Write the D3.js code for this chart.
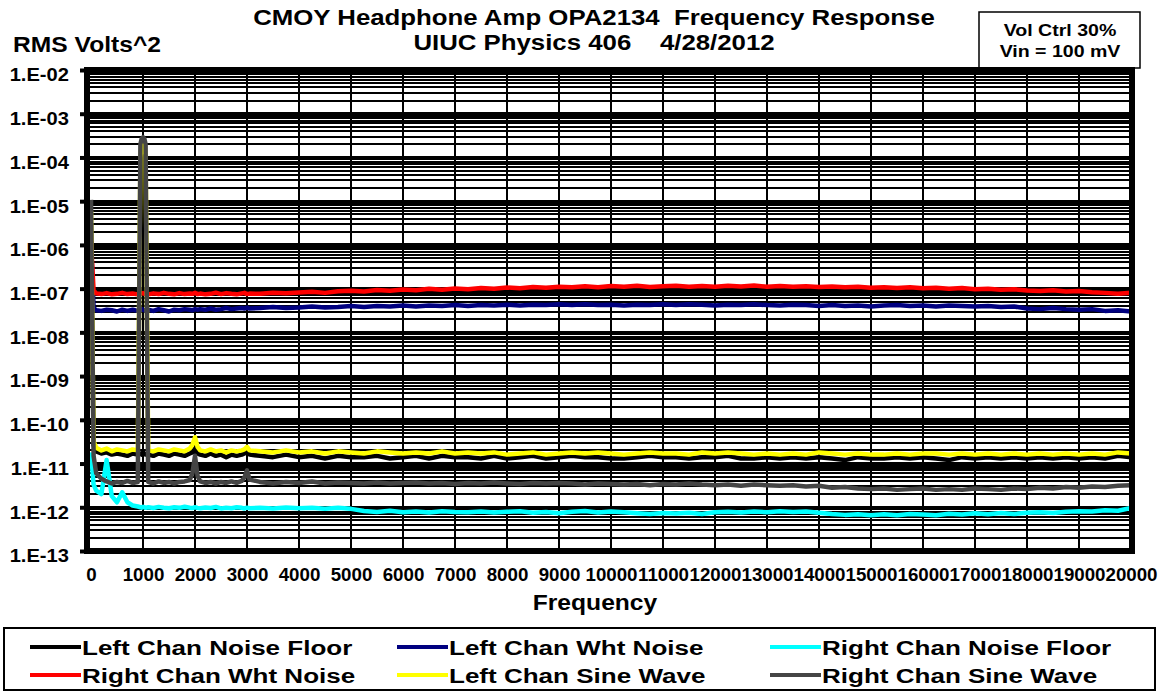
<!DOCTYPE html>
<html lang="en">
<head>
<meta charset="UTF-8" />
<title>CMOY Headphone Amp OPA2134 Frequency Response</title>
<script src="https://d3js.org/d3.v7.min.js"></script>
<style>
  body { margin: 0; background: #fff; }
  svg { display: block; font-family: "Liberation Sans", Arial, sans-serif; font-weight: bold; }
</style>
</head>
<body>
<svg id="chart" width="1166" height="692"></svg>
<script>
// ---- data ----
const freq = [
  0, 50, 100,
  200, 300, 400, 500, 600, 700, 800, 900,
  950, 975, 1000, 1025, 1050,
  1100, 1200, 1300, 1400, 1500, 1600, 1700, 1800, 1900,
  1950, 2000, 2050,
  2100, 2200, 2300, 2400, 2500, 2600, 2700, 2800, 2900,
  2950, 3000, 3050,
  3250, 3500, 3750, 4000, 4250, 4500, 4750, 5000, 5250, 5500, 5750, 6000,
  6250, 6500, 6750, 7000, 7250, 7500, 7750, 8000, 8250, 8500, 8750, 9000,
  9250, 9500, 9750, 10000, 10250, 10500, 10750, 11000, 11250, 11500, 11750, 12000,
  12250, 12500, 12750, 13000, 13250, 13500, 13750, 14000, 14250, 14500, 14750, 15000,
  15250, 15500, 15750, 16000, 16250, 16500, 16750, 17000, 17250, 17500, 17750, 18000,
  18250, 18500, 18750, 19000, 19250, 19500, 19750, 20000
];

const leftNoiseFloor = [
  3e-6, 2.6e-11, 1.9e-11,
  1.7e-11, 1.8e-11, 1.6e-11, 1.7e-11, 1.6e-11, 1.5e-11, 1.7e-11, 1.6e-11,
  1.7e-11, 1.6e-11, 1.8e-11, 1.7e-11, 1.6e-11,
  1.6e-11, 1.5e-11, 1.7e-11, 1.6e-11, 1.5e-11, 1.7e-11, 1.6e-11, 1.5e-11, 1.7e-11,
  1.8e-11, 2.2e-11, 1.7e-11,
  1.6e-11, 1.5e-11, 1.7e-11, 1.5e-11, 1.6e-11, 1.4e-11, 1.6e-11, 1.5e-11, 1.6e-11,
  1.7e-11, 1.9e-11, 1.6e-11,
  1.5e-11, 1.4e-11, 1.6e-11, 1.4e-11, 1.5e-11, 1.3e-11, 1.5e-11, 1.4e-11,
  1.4e-11, 1.5e-11, 1.3e-11, 1.4e-11, 1.5e-11, 1.3e-11, 1.5e-11, 1.4e-11,
  1.4e-11, 1.3e-11, 1.5e-11, 1.3e-11, 1.4e-11, 1.5e-11, 1.3e-11, 1.4e-11,
  1.5e-11, 1.4e-11, 1.4e-11, 1.3e-11, 1.3e-11, 1.4e-11, 1.5e-11, 1.4e-11,
  1.4e-11, 1.3e-11, 1.4e-11, 1.4e-11, 1.5e-11, 1.3e-11, 1.3e-11, 1.4e-11,
  1.3e-11, 1.4e-11, 1.3e-11, 1.4e-11, 1.3e-11, 1.2e-11, 1.4e-11, 1.3e-11,
  1.3e-11, 1.4e-11, 1.3e-11, 1.4e-11, 1.3e-11, 1.2e-11, 1.4e-11, 1.3e-11,
  1.4e-11, 1.3e-11, 1.4e-11, 1.3e-11, 1.4e-11, 1.3e-11, 1.4e-11, 1.3e-11,
  1.4e-11, 1.3e-11, 1.5e-11, 1.4e-11
];

const leftWhtNoise = [
  1.2e-6, 3.6e-8, 3.2e-8,
  3.1e-8, 3.3e-8, 3.2e-8, 3.0e-8, 3.3e-8, 3.1e-8, 3.3e-8, 3.1e-8,
  3.2e-8, 3.4e-8, 3.3e-8, 3.2e-8, 3.1e-8,
  3.3e-8, 3.1e-8, 3.4e-8, 3.2e-8, 3.0e-8, 3.3e-8, 3.2e-8, 3.4e-8, 3.3e-8,
  3.2e-8, 3.4e-8, 3.3e-8,
  3.4e-8, 3.3e-8, 3.5e-8, 3.3e-8, 3.4e-8, 3.6e-8, 3.4e-8, 3.5e-8, 3.6e-8,
  3.5e-8, 3.7e-8, 3.5e-8,
  3.6e-8, 3.8e-8, 3.6e-8, 3.7e-8, 3.9e-8, 3.7e-8, 3.8e-8, 4.0e-8,
  3.8e-8, 4.0e-8, 3.9e-8, 4.1e-8, 3.9e-8, 4.1e-8, 4.0e-8, 4.2e-8,
  4.0e-8, 4.2e-8, 4.1e-8, 4.3e-8, 4.1e-8, 4.3e-8, 4.2e-8, 4.4e-8,
  4.2e-8, 4.4e-8, 4.2e-8, 4.3e-8, 4.1e-8, 4.3e-8, 4.2e-8, 4.4e-8,
  4.2e-8, 4.4e-8, 4.3e-8, 4.1e-8, 4.3e-8, 4.2e-8, 4.4e-8, 4.2e-8,
  4.1e-8, 4.3e-8, 4.2e-8, 4.0e-8, 4.2e-8, 4.0e-8, 4.1e-8, 3.9e-8,
  4.1e-8, 4.2e-8, 4.0e-8, 4.1e-8, 3.9e-8, 4.1e-8, 4.0e-8, 3.9e-8,
  4.0e-8, 3.8e-8, 3.9e-8, 3.5e-8, 3.4e-8, 3.6e-8, 3.4e-8, 3.3e-8,
  3.4e-8, 3.1e-8, 3.2e-8, 3.0e-8
];

const rightNoiseFloor = [
  1.8e-11, 3.3e-12, 2.4e-12,
  2.0e-12, 1.2e-11, 1.8e-12, 1.3e-12, 2.2e-12, 1.3e-12, 1.1e-12, 1.04e-12,
  1.0e-12, 9.8e-13, 1.03e-12, 1.0e-12, 9.7e-13,
  1.0e-12, 9.6e-13, 1.02e-12, 9.8e-13, 9.5e-13, 1.0e-12, 9.7e-13, 1.03e-12, 9.8e-13,
  9.6e-13, 1.0e-12, 9.7e-13,
  9.5e-13, 9.9e-13, 9.6e-13, 1.02e-12, 9.4e-13, 9.8e-13, 9.5e-13, 1.0e-12, 9.7e-13,
  9.4e-13, 9.8e-13, 9.5e-13,
  9.7e-13, 9.4e-13, 9.9e-13, 9.5e-13, 9.8e-13, 9.3e-13, 9.7e-13, 9.2e-13,
  8.2e-13, 7.8e-13, 8.3e-13, 7.7e-13, 8.0e-13, 7.6e-13, 8.1e-13, 7.8e-13,
  7.7e-13, 8.0e-13, 7.6e-13, 7.9e-13, 8.1e-13, 7.5e-13, 7.8e-13, 7.3e-13,
  7.9e-13, 8.2e-13, 7.6e-13, 8.0e-13, 7.7e-13, 7.3e-13, 7.0e-13, 7.4e-13,
  7.2e-13, 7.5e-13, 7.0e-13, 7.7e-13, 7.9e-13, 7.6e-13, 8.0e-13, 7.7e-13,
  8.1e-13, 7.8e-13, 8.0e-13, 7.5e-13, 7.0e-13, 6.7e-13, 6.9e-13, 6.6e-13,
  6.9e-13, 6.6e-13, 7.0e-13, 6.8e-13, 6.6e-13, 7.1e-13, 6.8e-13, 7.3e-13,
  6.9e-13, 7.4e-13, 7.0e-13, 7.5e-13, 7.7e-13, 7.4e-13, 7.9e-13, 8.1e-13,
  8.0e-13, 8.5e-13, 8.3e-13, 9.6e-13
];

const rightWhtNoise = [
  1.2e-6, 9e-8, 7.8e-8,
  7.5e-8, 7.9e-8, 7.4e-8, 7.6e-8, 8.0e-8, 7.5e-8, 7.7e-8, 7.4e-8,
  7.6e-8, 7.8e-8, 7.9e-8, 7.6e-8, 7.5e-8,
  7.4e-8, 7.8e-8, 7.5e-8, 8.0e-8, 7.6e-8, 7.4e-8, 7.9e-8, 7.5e-8, 7.7e-8,
  7.6e-8, 8.0e-8, 7.5e-8,
  7.7e-8, 7.4e-8, 7.6e-8, 8.1e-8, 7.5e-8, 7.9e-8, 7.6e-8, 7.4e-8, 7.8e-8,
  8.0e-8, 7.5e-8, 7.7e-8,
  7.6e-8, 8.1e-8, 7.8e-8, 8.2e-8, 8.5e-8, 8.0e-8, 8.7e-8, 8.9e-8,
  8.6e-8, 9.3e-8, 9.0e-8, 9.5e-8, 9.2e-8, 9.9e-8, 9.4e-8, 1.01e-7,
  9.7e-8, 1.04e-7, 1.0e-7, 1.06e-7, 1.02e-7, 1.09e-7, 1.05e-7, 1.11e-7,
  1.07e-7, 1.13e-7, 1.08e-7, 1.15e-7, 1.10e-7, 1.16e-7, 1.09e-7, 1.14e-7,
  1.17e-7, 1.10e-7, 1.15e-7, 1.11e-7, 1.16e-7, 1.12e-7, 1.18e-7, 1.11e-7,
  1.15e-7, 1.10e-7, 1.14e-7, 1.09e-7, 1.12e-7, 1.07e-7, 1.10e-7, 1.05e-7,
  1.08e-7, 1.03e-7, 1.07e-7, 1.02e-7, 1.05e-7, 1.0e-7, 1.04e-7, 9.7e-8,
  1.0e-7, 9.4e-8, 9.7e-8, 9.1e-8, 8.8e-8, 9.2e-8, 8.6e-8, 8.8e-8,
  8.3e-8, 8.0e-8, 7.6e-8, 8.1e-8
];

const leftSine = [
  6e-6, 3.2e-11, 2.3e-11,
  2.0e-11, 2.2e-11, 1.9e-11, 2.1e-11, 2.0e-11, 1.9e-11, 2.1e-11, 2.0e-11,
  1.0e-4, 2.2e-4, 2.5e-4, 2.0e-4, 1.1e-4,
  2.0e-11, 1.9e-11, 2.1e-11, 2.0e-11, 1.9e-11, 2.1e-11, 2.0e-11, 1.9e-11, 2.2e-11,
  2.7e-11, 4.0e-11, 2.4e-11,
  2.0e-11, 1.9e-11, 2.1e-11, 1.9e-11, 2.0e-11, 1.8e-11, 2.0e-11, 1.9e-11, 2.0e-11,
  2.1e-11, 2.4e-11, 2.0e-11,
  1.9e-11, 1.8e-11, 2.0e-11, 1.8e-11, 1.9e-11, 1.7e-11, 1.9e-11, 1.8e-11,
  1.7e-11, 1.9e-11, 1.8e-11, 1.7e-11, 1.8e-11, 1.7e-11, 1.9e-11, 1.7e-11,
  1.8e-11, 1.7e-11, 1.8e-11, 1.6e-11, 1.7e-11, 1.8e-11, 1.6e-11, 1.7e-11,
  1.8e-11, 1.7e-11, 1.8e-11, 1.7e-11, 1.6e-11, 1.7e-11, 1.8e-11, 1.7e-11,
  1.7e-11, 1.6e-11, 1.8e-11, 1.7e-11, 1.8e-11, 1.7e-11, 1.6e-11, 1.7e-11,
  1.6e-11, 1.7e-11, 1.6e-11, 1.8e-11, 1.7e-11, 1.6e-11, 1.7e-11, 1.6e-11,
  1.6e-11, 1.7e-11, 1.6e-11, 1.7e-11, 1.7e-11, 1.6e-11, 1.7e-11, 1.6e-11,
  1.7e-11, 1.6e-11, 1.7e-11, 1.6e-11, 1.7e-11, 1.6e-11, 1.7e-11, 1.6e-11,
  1.7e-11, 1.6e-11, 1.8e-11, 1.7e-11
];

const rightSine = [
  1.07e-5, 1.5e-11, 6e-12,
  4.5e-12, 3.9e-12, 3.5e-12, 3.8e-12, 3.6e-12, 4.0e-12, 3.6e-12, 3.8e-12,
  2.0e-4, 2.7e-4, 2.9e-4, 2.7e-4, 2.0e-4,
  3.8e-12, 3.5e-12, 3.9e-12, 3.6e-12, 3.8e-12, 3.5e-12, 3.8e-12, 3.9e-12, 4.2e-12,
  6e-12, 1.5e-11, 5.2e-12,
  3.9e-12, 3.6e-12, 3.8e-12, 3.5e-12, 3.8e-12, 3.6e-12, 3.9e-12, 3.6e-12, 4.0e-12,
  4.8e-12, 7e-12, 4.3e-12,
  3.8e-12, 3.5e-12, 3.8e-12, 3.6e-12, 3.9e-12, 3.5e-12, 3.7e-12, 3.6e-12,
  3.5e-12, 3.7e-12, 3.5e-12, 3.6e-12, 3.7e-12, 3.5e-12, 3.6e-12, 3.4e-12,
  3.6e-12, 3.5e-12, 3.7e-12, 3.5e-12, 3.4e-12, 3.6e-12, 3.5e-12, 3.6e-12,
  3.5e-12, 3.3e-12, 3.5e-12, 3.4e-12, 3.3e-12, 3.4e-12, 3.2e-12, 3.4e-12,
  3.3e-12, 3.5e-12, 3.3e-12, 3.2e-12, 3.3e-12, 3.1e-12, 3.3e-12, 3.2e-12,
  3.1e-12, 3.2e-12, 3.0e-12, 3.1e-12, 2.8e-12, 2.9e-12, 2.7e-12, 2.6e-12,
  2.7e-12, 2.5e-12, 2.6e-12, 2.7e-12, 2.5e-12, 2.6e-12, 2.5e-12, 2.7e-12,
  2.6e-12, 2.5e-12, 2.7e-12, 2.6e-12, 2.8e-12, 2.7e-12, 2.9e-12, 2.8e-12,
  3.0e-12, 2.9e-12, 3.1e-12, 3.2e-12
];

const seriesNames = [
  "Left Chan Noise Floor", "Left Chan Wht Noise", "Right Chan Noise Floor",
  "Right Chan Wht Noise", "Left Chan Sine Wave", "Right Chan Sine Wave"
];
const seriesValues = [leftNoiseFloor, leftWhtNoise, rightNoiseFloor, rightWhtNoise, leftSine, rightSine];
const seriesColors = ["#000000", "#000080", "#00ffff", "#ff0000", "#ffff00", "#454545"];

const yTicks = [1e-2, 1e-3, 1e-4, 1e-5, 1e-6, 1e-7, 1e-8, 1e-9, 1e-10, 1e-11, 1e-12, 1e-13];
const yTickLabels = ["1.E-02", "1.E-03", "1.E-04", "1.E-05", "1.E-06", "1.E-07",
  "1.E-08", "1.E-09", "1.E-10", "1.E-11", "1.E-12", "1.E-13"];
const xTicks = [0, 1000, 2000, 3000, 4000, 5000, 6000, 7000, 8000, 9000, 10000,
  11000, 12000, 13000, 14000, 15000, 16000, 17000, 18000, 19000, 20000];

// ---- layout ----
const svg = d3.select("#chart");
const plot = { left: 88, right: 1131, top: 70, bottom: 551 };

const x = d3.scaleLinear().domain([0, 20000]).range([91, 1131]);
const y = d3.scaleLog().domain([1e-13, 1e-2]).range([plot.bottom, plot.top]);

// the original picture has its text stretched sideways a little
function stretchText(parent, str, px, py, size, sx, anchor) {
  const g = parent.append("g").attr("transform", `translate(${px},${py}) scale(${sx},1)`);
  g.append("text")
    .attr("text-anchor", anchor || "start")
    .attr("font-size", size)
    .attr("fill", "#000")
    .attr("xml:space", "preserve")
    .text(str);
  return g;
}

// titles
stretchText(svg, "CMOY Headphone Amp OPA2134  Frequency Response", 594, 25, 21.5, 1.2, "middle");
stretchText(svg, "UIUC Physics 406    4/28/2012", 594, 50, 21.5, 1.2, "middle");
stretchText(svg, "RMS Volts^2", 13, 52, 22, 1.12, "start");

// note box
svg.append("rect").attr("x", 979).attr("y", 12).attr("width", 161).attr("height", 56)
  .attr("fill", "#fff").attr("stroke", "#000").attr("stroke-width", 1.5);
stretchText(svg, "Vol Ctrl 30%", 1060, 36, 17, 1.15, "middle");
stretchText(svg, "Vin = 100 mV", 1060, 57, 17, 1.15, "middle");

// gridlines: every log sub-tick, decades heavier
const isDecade = d => Math.abs(Math.log10(d) - Math.round(Math.log10(d))) < 1e-6;
svg.append("g").attr("shape-rendering", "crispEdges")
  .selectAll("line")
  .data(y.ticks(40))
  .join("line")
  .attr("x1", plot.left).attr("x2", plot.right)
  .attr("y1", d => y(d)).attr("y2", d => y(d))
  .attr("stroke", "#000")
  .attr("stroke-width", d => isDecade(d) ? 3 : 2);

svg.append("g").attr("shape-rendering", "crispEdges")
  .selectAll("line")
  .data(xTicks.slice(1, -1))
  .join("line")
  .attr("x1", d => x(d)).attr("x2", d => x(d))
  .attr("y1", plot.top).attr("y2", plot.bottom)
  .attr("stroke", "#000").attr("stroke-width", 2);

// series
svg.append("clipPath").attr("id", "clip")
  .append("rect").attr("x", plot.left).attr("y", plot.top)
  .attr("width", plot.right - plot.left).attr("height", plot.bottom - plot.top);

const line = d3.line()
  .x((d, i) => x(freq[i]))
  .y(d => y(d));

svg.append("g").attr("clip-path", "url(#clip)")
  .selectAll("path")
  .data(seriesValues)
  .join("path")
  .attr("d", line)
  .attr("fill", "none")
  .attr("stroke", (d, i) => seriesColors[i])
  .attr("stroke-width", 4.5)
  .attr("stroke-linejoin", "round");

// plot frame
svg.append("rect")
  .attr("x", plot.left - 1).attr("y", plot.top)
  .attr("width", plot.right - plot.left + 2).attr("height", plot.bottom - plot.top)
  .attr("fill", "none").attr("stroke", "#000").attr("stroke-width", 6)
  .attr("shape-rendering", "crispEdges");

// y axis
const yAxis = svg.append("g")
  .attr("transform", `translate(${plot.left - 3},0)`)
  .call(d3.axisLeft(y).tickValues(yTicks).tickSize(5).tickFormat((d, i) => yTickLabels[i]));
yAxis.select(".domain").remove();
yAxis.selectAll(".tick line").attr("stroke", "#000").attr("stroke-width", 4);
yAxis.selectAll(".tick text")
  .attr("x", -14).attr("dy", "0.62em")
  .attr("transform", "scale(1.15,1)")
  .attr("font-size", 17.5).attr("font-family", "Liberation Sans, Arial, sans-serif")
  .attr("font-weight", "bold").attr("fill", "#000");

// x axis
const xAxis = svg.append("g")
  .attr("transform", "translate(0,581)")
  .call(d3.axisBottom(x).tickValues(xTicks).tickSize(0).tickFormat(d3.format("d")));
xAxis.select(".domain").remove();
xAxis.selectAll(".tick text")
  .attr("y", 0).attr("dy", 0)
  .attr("transform", "scale(1.07,1)")
  .attr("font-size", 17.5).attr("font-family", "Liberation Sans, Arial, sans-serif")
  .attr("font-weight", "bold").attr("fill", "#000");

stretchText(svg, "Frequency", 595, 610, 22, 1.12, "middle");

// legend
svg.append("rect").attr("x", 4).attr("y", 628).attr("width", 1151).attr("height", 62)
  .attr("fill", "#fff").attr("stroke", "#000").attr("stroke-width", 2);

const legendCols = [30, 397, 770];
const legendRows = [647, 675];
const items = svg.append("g").selectAll("g")
  .data(seriesNames)
  .join("g")
  .attr("transform", (d, i) => `translate(${legendCols[i % 3]},${legendRows[Math.floor(i / 3)]})`);
items.append("line")
  .attr("x1", 0).attr("x2", 51).attr("y1", 0).attr("y2", 0)
  .attr("stroke", (d, i) => seriesColors[i]).attr("stroke-width", 4);
items.each(function (d) {
  stretchText(d3.select(this), d, 52, 7.5, 21, 1.24, "start");
});
</script>
</body>
</html>
